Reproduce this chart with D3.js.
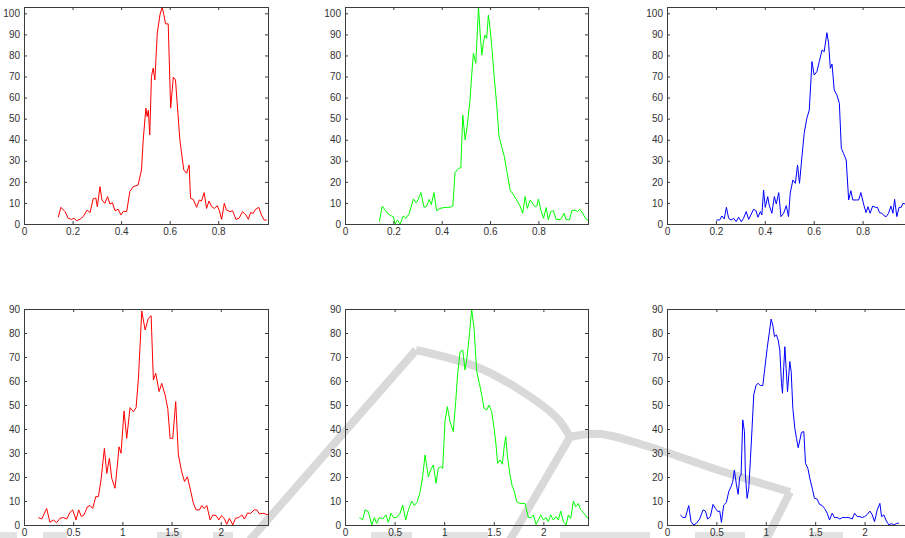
<!DOCTYPE html>
<html>
<head>
<meta charset="utf-8">
<script src="https://cdn.jsdelivr.net/npm/d3@7"></script>
<style>
  html, body { margin: 0; padding: 0; background: #fff; }
  svg { display: block; }
  text { font-family: "Liberation Sans", Arial, sans-serif; }
</style>
</head>
<body>
<svg id="chart" width="905" height="538"></svg>
<script>
// ---------- DATA ----------
const topXTicks = [0, 0.2, 0.4, 0.6, 0.8];
const topYTicks = [0, 10, 20, 30, 40, 50, 60, 70, 80, 90, 100];
const bottomXTicks = [0, 0.5, 1, 1.5, 2];
const bottomYTicks = [0, 10, 20, 30, 40, 50, 60, 70, 80, 90];

const redTop = [
[0.141,3.2],[0.152,7.9],[0.169,5.9],[0.182,2.7],[0.196,2.2],[0.206,2.7],[0.217,1.6],[0.23,2.2],
[0.244,3.5],[0.26,6.6],[0.272,5.4],[0.285,12],[0.296,12.3],[0.302,8.2],[0.313,17.7],[0.321,11.4],
[0.333,9.8],[0.344,13],[0.354,9.5],[0.364,10.1],[0.375,6.3],[0.388,7],[0.399,4.3],[0.409,6],
[0.423,5.9],[0.436,15.4],[0.45,17.7],[0.47,18.5],[0.484,25.7],[0.491,39.9],[0.502,55],[0.507,51],
[0.512,54],[0.518,42.3],[0.525,70],[0.532,74],[0.539,68.4],[0.549,90.6],[0.56,99.3],[0.569,103],
[0.576,99.3],[0.583,95],[0.594,95],[0.604,55],[0.615,69.7],[0.624,68.4],[0.642,39.9],[0.658,25.7],
[0.67,24.1],[0.68,28],[0.686,12.2],[0.697,11.7],[0.711,7.9],[0.722,11.4],[0.731,10.9],[0.742,14.9],
[0.752,7.4],[0.762,10.9],[0.773,8.2],[0.784,7.4],[0.796,8.7],[0.804,6.6],[0.814,2.2],[0.825,9.8],
[0.834,6.6],[0.848,5.9],[0.859,6.3],[0.873,2.2],[0.886,2.7],[0.9,5.9],[0.914,4.3],[0.924,2.2],
[0.933,5.4],[0.944,5.1],[0.954,7],[0.967,7.9],[0.978,4.3],[0.989,1.9],[1.0,1.9]
];

const greenTop = [
[0.142,1.1],[0.154,8.5],[0.166,6.6],[0.179,4.7],[0.193,3.8],[0.2,3.5],[0.207,0],[0.217,1.9],
[0.228,0],[0.241,3.8],[0.252,2.7],[0.266,5.1],[0.283,11.9],[0.294,10.1],[0.303,11.7],[0.314,14.9],
[0.327,7.9],[0.338,8.5],[0.348,11.7],[0.357,9.2],[0.368,14.9],[0.379,6.3],[0.393,7.4],[0.414,7.9],
[0.434,7.9],[0.446,8.5],[0.455,24.4],[0.469,26.4],[0.479,26.7],[0.487,51.7],[0.497,39.9],[0.506,47],
[0.517,58.9],[0.524,70.7],[0.531,81],[0.541,76.3],[0.548,92.9],[0.552,103],[0.559,90.5],[0.566,80.2],
[0.572,85.8],[0.579,89.7],[0.586,88.1],[0.593,99.2],[0.6,92.9],[0.607,84.2],[0.617,69.9],[0.628,55.7],
[0.637,41.5],[0.648,36.7],[0.659,32],[0.672,23.3],[0.683,16.1],[0.697,13.8],[0.71,11.4],[0.724,8.5],
[0.735,5.1],[0.745,13],[0.754,7.4],[0.766,11.4],[0.777,9.5],[0.786,8.2],[0.793,8.5],[0.8,11.9],
[0.81,6.6],[0.821,2.7],[0.832,7.8],[0.841,1.9],[0.851,5.9],[0.862,6.3],[0.873,2.2],[0.892,2.2],
[0.906,5.1],[0.914,2.2],[0.928,1.9],[0.938,6.3],[0.952,6.6],[0.961,5.9],[0.972,7],[0.983,5.1],
[0.997,2.2],[1.005,1.9]
];

const blueTop = [
[0.202,1.9],[0.215,1.9],[0.225,3.8],[0.234,2.4],[0.243,7.9],[0.252,2.7],[0.262,1.9],[0.273,2.7],
[0.283,1.1],[0.293,3.2],[0.304,1.1],[0.313,2.7],[0.324,5.9],[0.334,2.2],[0.343,4.3],[0.354,7],
[0.364,6.3],[0.372,3.2],[0.382,5.9],[0.388,4.3],[0.395,16.1],[0.402,7.9],[0.412,13],[0.418,9],
[0.429,5.1],[0.439,13],[0.447,9.5],[0.457,14.9],[0.466,3.5],[0.477,5.1],[0.488,8.7],[0.497,3.5],
[0.504,14.6],[0.515,20.9],[0.525,19.3],[0.534,28],[0.542,19.3],[0.552,32],[0.561,43],[0.572,50.2],
[0.582,54.1],[0.593,77.1],[0.602,70.7],[0.613,72.3],[0.623,77.1],[0.634,82.6],[0.643,81.8],[0.654,90.8],
[0.661,85.8],[0.668,73.9],[0.675,75.9],[0.684,63.6],[0.695,61.2],[0.705,57.3],[0.713,35.9],[0.722,33.5],
[0.733,30.4],[0.743,11.4],[0.752,15.8],[0.76,11.4],[0.774,11.4],[0.784,11.4],[0.793,14.9],[0.804,9.5],
[0.814,5.4],[0.822,8.2],[0.831,5.1],[0.841,8.5],[0.852,7.9],[0.861,7.9],[0.869,5.4],[0.879,5.1],
[0.889,3.8],[0.897,3.5],[0.906,5.1],[0.916,8.5],[0.924,5.1],[0.931,11.7],[0.94,3.5],[0.949,7.9],
[0.958,7.9],[0.965,9.8],[0.974,9.5]
];

const redBottom = [
[0.146,3.1],[0.18,2.5],[0.23,6.9],[0.264,1.1],[0.298,2.1],[0.332,1],[0.366,2.8],[0.4,3.1],
[0.434,2.5],[0.468,5.3],[0.495,6.3],[0.529,2.1],[0.556,6.3],[0.583,3.5],[0.61,4.2],[0.644,7.6],
[0.671,8.1],[0.698,6.9],[0.729,11.8],[0.756,11.8],[0.783,18.8],[0.817,31.9],[0.841,21.5],[0.868,27.8],
[0.892,19.4],[0.925,15.3],[0.949,25],[0.966,32.6],[0.986,29.9],[1.017,47.5],[1.044,36.1],[1.078,48.9],
[1.112,47.2],[1.139,48.9],[1.163,61.1],[1.197,89.2],[1.231,81.3],[1.264,86.1],[1.292,87.2],[1.315,60.4],
[1.339,63.2],[1.373,55.6],[1.4,59],[1.434,54.2],[1.461,48.6],[1.485,36.1],[1.512,36.1],[1.542,51.4],
[1.569,29.2],[1.603,22.2],[1.631,18.1],[1.661,20.1],[1.688,15.3],[1.722,9],[1.749,6.3],[1.783,6.3],
[1.807,8.1],[1.831,6.9],[1.858,8.1],[1.892,2.1],[1.919,4.2],[1.953,3.9],[1.98,2.1],[2.007,3.9],
[2.034,2.8],[2.061,0.3],[2.088,2.8],[2.122,0],[2.149,2.8],[2.183,3.1],[2.214,4.2],[2.241,2.5],
[2.271,4.9],[2.305,4.9],[2.339,6.3],[2.366,6.3],[2.393,4.6],[2.427,4.9],[2.468,4.4],[2.48,4.4]
];

const greenBottom = [
[0.145,3.1],[0.178,2.1],[0.202,6.3],[0.235,5.6],[0.269,0],[0.296,3.1],[0.319,0.7],[0.346,3.1],
[0.38,2.5],[0.413,4.2],[0.437,1.1],[0.464,4.9],[0.487,3.1],[0.521,3.1],[0.555,4.9],[0.582,8.3],
[0.612,2.1],[0.639,6.3],[0.672,10],[0.699,8.1],[0.729,9.7],[0.756,13.6],[0.783,20.1],[0.807,29.2],
[0.84,20.1],[0.864,22.9],[0.891,25],[0.918,17.4],[0.941,23.6],[0.965,24.3],[0.985,23.6],[1.008,43.1],
[1.032,49.3],[1.059,43.1],[1.092,38.9],[1.116,51.4],[1.136,63.2],[1.16,72.2],[1.187,72.9],[1.21,64.6],
[1.227,68.8],[1.254,79.2],[1.277,90],[1.301,81.9],[1.328,63.9],[1.355,59],[1.378,54.2],[1.402,48.6],
[1.429,47.9],[1.452,50],[1.479,47.2],[1.503,40.3],[1.523,33.3],[1.539,25.7],[1.563,27.1],[1.587,25.3],
[1.603,31.9],[1.62,36.8],[1.64,27.8],[1.664,20.8],[1.687,16],[1.708,13.9],[1.731,9.7],[1.765,9],
[1.815,9],[1.849,3.1],[1.876,3.1],[1.899,4.2],[1.926,0.3],[1.95,2.1],[1.973,4.2],[2.0,2.1],
[2.027,3.1],[2.05,1.4],[2.074,4.2],[2.101,2.1],[2.128,3.5],[2.151,2.1],[2.175,5.8],[2.202,1.4],
[2.229,0],[2.252,4.2],[2.276,2.8],[2.303,10],[2.326,7.6],[2.353,9],[2.376,6.3],[2.41,4.9],[2.447,2.8]
];

const blueBottom = [
[0.135,4.2],[0.162,3.1],[0.186,3.1],[0.22,8.1],[0.243,1.4],[0.27,0],[0.297,0.7],[0.331,2.5],
[0.365,6.3],[0.389,5.8],[0.412,2.5],[0.439,3.5],[0.466,8.6],[0.49,6.9],[0.514,5.6],[0.534,5.8],
[0.551,1.1],[0.574,8.3],[0.601,9.4],[0.625,13.9],[0.649,16],[0.666,18.1],[0.682,22.9],[0.703,16.7],
[0.72,12.8],[0.736,20.1],[0.75,20.8],[0.767,43.8],[0.784,38.9],[0.794,20.8],[0.811,11.1],[0.828,15.3],
[0.845,27.8],[0.861,40.3],[0.878,54.2],[0.902,58.3],[0.922,59],[0.946,58.1],[0.97,58.1],[0.99,65.3],
[1.014,73.6],[1.037,80.6],[1.054,85.8],[1.071,83.3],[1.088,78.5],[1.108,79.2],[1.125,77.1],[1.142,72.9],
[1.159,59],[1.169,54.9],[1.182,66],[1.193,74.3],[1.206,65.3],[1.22,55.6],[1.233,62.5],[1.243,68.1],
[1.257,63.9],[1.274,48.6],[1.294,40.3],[1.311,36.1],[1.328,32.2],[1.345,35.4],[1.361,38.6],[1.385,38.9],
[1.402,25.7],[1.426,23.6],[1.446,19.4],[1.47,15.3],[1.493,11.1],[1.52,10.8],[1.544,8.6],[1.571,8.1],
[1.595,6.9],[1.622,4.9],[1.645,2.1],[1.672,4.9],[1.696,3.1],[1.723,3.1],[1.75,2.5],[1.774,3.1],
[1.807,3.1],[1.841,3.1],[1.875,2.5],[1.899,4.9],[1.926,3.5],[1.953,3.5],[1.976,3.1],[2.0,3.5],
[2.027,4.4],[2.054,5.8],[2.078,4.2],[2.101,1.4],[2.128,6.3],[2.155,9],[2.172,3.5],[2.196,4.2],
[2.22,1.7],[2.247,0],[2.27,0.6],[2.297,0],[2.321,0.6],[2.348,0.8]
];

// faint background watermark (decoration)
const wmStrokeA = [[250,540],[416,350]];
const wmArc = [[416,350],[477,367],[523,392],[557,418],[570,437]];
const wmStrokeB = [[570,437],[510,540]];
const wmCurve = [[570,437],[600,434],[650,447],[718,470],[790,492]];
const wmHook = [[790,492],[766,540]];
const wmBlobs = [[0,17],[43,67],[157,182],[213,233],[371,412],[443,488],[560,650],[695,745],[810,843]];

// ---------- DRAW ----------
const svg = d3.select("#chart");
const wmColor = "#d9d9d9";

// watermark
const wm = svg.append("g").attr("fill", "none").attr("stroke", wmColor).attr("stroke-width", 8);
const straight = d3.line();
const smooth = d3.line().curve(d3.curveCatmullRom);
wm.append("path").attr("d", straight(wmStrokeA));
wm.append("path").attr("d", smooth(wmArc));
wm.append("path").attr("d", straight(wmStrokeB));
wm.append("path").attr("d", smooth(wmCurve));
wm.append("path").attr("d", straight(wmHook));
svg.append("g").selectAll("rect").data(wmBlobs).join("rect")
  .attr("x", d => d[0]).attr("width", d => d[1] - d[0])
  .attr("y", 532).attr("height", 7).attr("fill", "#e2e2e2");

const panels = [
  {data: redTop, color: "#ff0000", x0: 24, w: 244, y0: 7, h: 217, xmax: 1.005, ymax: 103, xt: topXTicks, yt: topYTicks},
  {data: greenTop, color: "#00ff00", x0: 345, w: 243, y0: 7, h: 217, xmax: 1.005, ymax: 103, xt: topXTicks, yt: topYTicks},
  {data: blueTop, color: "#0000ff", x0: 667, w: 244, y0: 7, h: 217, xmax: 0.998, ymax: 103, xt: topXTicks, yt: topYTicks},
  {data: redBottom, color: "#ff0000", x0: 24, w: 244, y0: 309, h: 216, xmax: 2.48, ymax: 90, xt: bottomXTicks, yt: bottomYTicks},
  {data: greenBottom, color: "#00ff00", x0: 345, w: 243, y0: 309, h: 216, xmax: 2.45, ymax: 90, xt: bottomXTicks, yt: bottomYTicks},
  {data: blueBottom, color: "#0000ff", x0: 667, w: 244, y0: 309, h: 216, xmax: 2.47, ymax: 90, xt: bottomXTicks, yt: bottomYTicks}
];

const fmt = v => String(v);
const axisColor = "#3c3c3c";
const tickLen = 3;

panels.forEach(p => {
  const x = d3.scaleLinear().domain([0, p.xmax]).range([p.x0, p.x0 + p.w]);
  const y = d3.scaleLinear().domain([0, p.ymax]).range([p.y0 + p.h, p.y0]);
  const g = svg.append("g");

  g.append("path")
    .datum(p.data)
    .attr("fill", "none")
    .attr("stroke", p.color)
    .attr("stroke-width", 1)
    .attr("stroke-linejoin", "round")
    .attr("d", d3.line().x(d => x(d[0])).y(d => y(d[1])));

  const styleAxis = sel => {
    sel.select(".domain").remove();
    sel.selectAll(".tick line").attr("stroke", axisColor);
    sel.selectAll(".tick text").attr("fill", "#333").attr("font-size", "10px")
      .attr("font-family", "'Liberation Sans', Arial, sans-serif");
  };

  g.append("g").attr("transform", `translate(0,${p.y0 + p.h})`)
    .call(d3.axisBottom(x).tickValues(p.xt).tickFormat(fmt).tickSizeInner(-tickLen).tickSizeOuter(0).tickPadding(4))
    .call(styleAxis);
  g.append("g").attr("transform", `translate(0,${p.y0})`)
    .call(d3.axisTop(x).tickValues(p.xt).tickFormat("").tickSizeInner(-tickLen).tickSizeOuter(0))
    .call(styleAxis);
  g.append("g").attr("transform", `translate(${p.x0},0)`)
    .call(d3.axisLeft(y).tickValues(p.yt).tickFormat(fmt).tickSizeInner(-tickLen).tickSizeOuter(0).tickPadding(4))
    .call(styleAxis);
  g.append("g").attr("transform", `translate(${p.x0 + p.w},0)`)
    .call(d3.axisRight(y).tickValues(p.yt).tickFormat("").tickSizeInner(-tickLen).tickSizeOuter(0))
    .call(styleAxis);

  g.append("rect")
    .attr("x", p.x0 + 0.5).attr("y", p.y0 + 0.5)
    .attr("width", p.w).attr("height", p.h)
    .attr("fill", "none").attr("stroke", axisColor).attr("stroke-width", 1);
});
</script>
</body>
</html>
